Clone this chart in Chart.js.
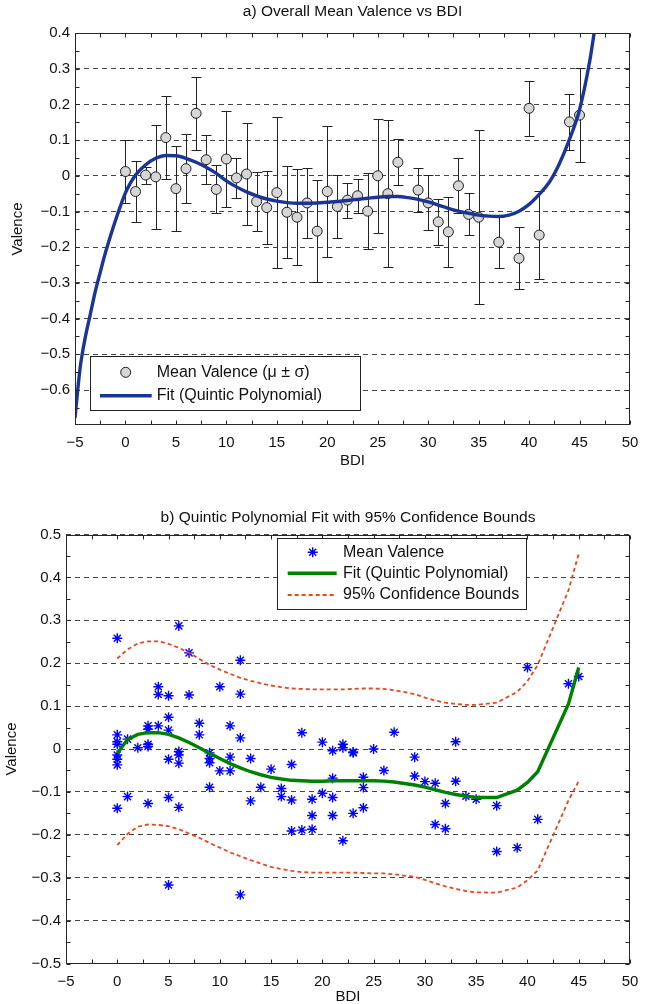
<!DOCTYPE html>
<html>
<head>
<meta charset="utf-8">
<script src="https://cdn.jsdelivr.net/npm/chart.js@4.4.1/dist/chart.umd.min.js"></script>
<style>
  body { margin: 0; background: #fff; }
  #wrap { position: relative; width: 652px; height: 1004px; }
  canvas { position: absolute; left: 0; }
  #topChart { top: 0; }
  #bottomChart { top: 490px; }
</style>
</head>
<body>
<div id="wrap">
  <canvas id="topChart" width="652" height="490"></canvas>
  <canvas id="bottomChart" width="652" height="514"></canvas>
</div>
<script>
// ---- data: panel a (per-BDI means with std) ----
const topBDI = [0, 1, 2, 3, 4, 5, 6, 7, 8, 9, 10, 11, 12, 13, 14, 15, 16, 17, 18, 19, 20,
  21, 22, 23, 24, 25, 26, 27, 29, 30, 31, 32, 33, 34, 35, 37, 39, 40, 41, 44, 45];
const meanValence = [0.012, -0.044, 0.002, -0.003, 0.107, -0.036, 0.020, 0.175, 0.045, -0.038, 0.047,
  -0.006, 0.005, -0.072, -0.089, -0.047, -0.102, -0.116, -0.076, -0.155, -0.044,
  -0.086, -0.068, -0.056, -0.099, 0.000, -0.050, 0.038, -0.040, -0.076, -0.129, -0.157, -0.028,
  -0.108, -0.116, -0.186, -0.231, 0.189, -0.166, 0.151, 0.170];
const sdValence = [0.088, 0.085, 0.024, 0.145, 0.117, 0.120, 0.097, 0.103, 0.068, 0.067, 0.135,
  0.057, 0.143, 0.082, 0.102, 0.211, 0.129, 0.134, 0.098, 0.143, 0.184,
  0.088, 0.049, 0.047, 0.107, 0.160, 0.205, 0.064, 0.061, 0.077, 0.064, 0.098, 0.077,
  0.059, 0.244, 0.071, 0.087, 0.077, 0.123, 0.079, 0.132];

// quintic fit
const fitCurveX = [-5, -4.5, -4, -3.5, -3, -2.5, -2, -1.5, -1, -0.5, 0, 0.5, 1, 2, 3, 4, 5, 6, 7, 8, 9, 10,
  11, 12, 13, 14, 15, 16, 17, 18, 19, 20, 21, 22, 23, 24, 25, 26, 27, 28, 29, 30,
  31, 32, 33, 34, 35, 36, 37, 38, 39, 40, 41, 42, 43, 44, 45, 46, 46.5];
const fitCurveY = [-0.678, -0.54, -0.455, -0.39, -0.325, -0.27, -0.217, -0.17, -0.126, -0.085, -0.048, -0.02,
  0.002, 0.031, 0.049, 0.057, 0.056, 0.049, 0.038, 0.024, 0.007, -0.014,
  -0.031, -0.045, -0.056, -0.065, -0.071, -0.075, -0.077, -0.077, -0.076, -0.074,
  -0.072, -0.069, -0.066, -0.063, -0.060, -0.058, -0.058, -0.061, -0.066, -0.073,
  -0.082, -0.091, -0.099, -0.105, -0.110, -0.113, -0.114, -0.110, -0.099, -0.080,
  -0.052, -0.018, 0.034, 0.102, 0.185, 0.32, 0.41];

// ---- data: panel b (individual subjects) ----
const subjBDI = [0, 0, 0, 0, 0, 0, 0, 0, 1, 1, 2, 3, 3, 3, 3, 3, 4, 4, 4,
  5, 5, 5, 5, 5, 5, 6, 6, 6, 6, 6, 7, 7, 8, 8, 9, 9, 9, 9, 10, 10, 11, 11, 11,
  12, 12, 12, 12, 13, 13, 14, 15, 16, 16, 17, 17, 17, 18, 18, 19, 19, 19, 20, 20,
  21, 21, 21, 21, 22, 22, 22, 23, 23, 23, 24, 24, 24, 25, 26, 27, 29, 29, 30,
  31, 31, 32, 32, 33, 33, 34, 35, 37, 37, 39, 40, 41, 44, 45];
const subjValence = [0.258, 0.033, 0.017, 0.011, -0.014, -0.024, -0.037, -0.138,
  0.023, -0.111, 0.003, 0.054, 0.046, 0.011, 0.006, -0.127, 0.145, 0.127, 0.054,
  0.124, 0.074, 0.044, -0.024, -0.113, -0.317, 0.287, -0.006, -0.014, -0.033, -0.136,
  0.224, 0.126, 0.060, 0.033, -0.009, -0.022, -0.032, -0.089, 0.145, -0.051,
  0.054, -0.019, -0.051, 0.207, 0.128, 0.026, -0.340, -0.022, -0.121, -0.089, -0.047,
  -0.092, -0.111, -0.036, -0.119, -0.191, 0.038, -0.189, -0.117, -0.155, -0.187,
  -0.103, 0.016, -0.004, -0.068, -0.113, -0.155, 0.011, 0.003, -0.214,
  -0.009, -0.007, -0.150, -0.066, -0.090, -0.137, 0.000, -0.050, 0.039,
  -0.019, -0.063, -0.076, -0.080, -0.176, -0.127, -0.186, 0.017, -0.075,
  -0.110, -0.117, -0.132, -0.239, -0.230, 0.190, -0.164, 0.152, 0.169];

const fitBDI = [0, 1, 2, 3, 4, 5, 6, 7, 8, 9, 10, 11, 12, 13, 14, 15, 16, 17, 18, 19, 20,
  21, 22, 23, 24, 25, 26, 27, 29, 30, 31, 32, 33, 34, 35, 37, 39, 40, 41, 44, 45];
const fitValence = [-0.010, 0.022, 0.034, 0.038, 0.038, 0.034, 0.026, 0.015, 0.003, -0.010, -0.022,
  -0.034, -0.044, -0.053, -0.060, -0.066, -0.070, -0.073, -0.074, -0.075, -0.075,
  -0.074, -0.074, -0.074, -0.074, -0.074, -0.075, -0.077, -0.084, -0.089, -0.095, -0.101, -0.106,
  -0.110, -0.113, -0.113, -0.096, -0.078, -0.053, 0.105, 0.190];
const upperBound = [0.211, 0.232, 0.246, 0.251, 0.251, 0.245, 0.236, 0.224, 0.210, 0.196, 0.185,
  0.175, 0.166, 0.159, 0.153, 0.148, 0.144, 0.141, 0.140, 0.139, 0.139,
  0.139, 0.139, 0.140, 0.141, 0.141, 0.140, 0.137, 0.128, 0.120, 0.113, 0.108, 0.105,
  0.103, 0.103, 0.108, 0.133, 0.158, 0.196, 0.370, 0.455];
const lowerBound = [-0.224, -0.198, -0.181, -0.176, -0.177, -0.180, -0.187, -0.197, -0.207, -0.219, -0.230,
  -0.241, -0.250, -0.259, -0.267, -0.275, -0.280, -0.284, -0.287, -0.288, -0.288,
  -0.288, -0.288, -0.288, -0.289, -0.290, -0.290, -0.292, -0.298, -0.305, -0.313, -0.320, -0.326,
  -0.331, -0.334, -0.335, -0.323, -0.306, -0.283, -0.120, -0.075];

// tick labels
const xTicks = [-5, 0, 5, 10, 15, 20, 25, 30, 35, 40, 45, 50];
const yTicksTop = [-0.6, -0.5, -0.4, -0.3, -0.2, -0.1, 0, 0.1, 0.2, 0.3, 0.4];
const yTicksBottom = [-0.5, -0.4, -0.3, -0.2, -0.1, 0, 0.1, 0.2, 0.3, 0.4, 0.5];

const FONT = "'Liberation Sans', Arial, Helvetica, sans-serif";
const INK = '#111';
const BLUE = '#1b3595';
const GREEN = '#008000';
const RED = '#e8461e';
Chart.defaults.font.family = FONT;
Chart.defaults.color = INK;

const pairs = (xs, ys) => xs.map((v, i) => ({ x: v, y: ys[i] }));
const fmt = v => {
  const s = Math.abs(v) < 1e-9 ? '0' : String(+v.toFixed(1));
  return s.replace('-', '\u2212');
};

// vertical error bars with caps, drawn under the markers
const errorBars = {
  id: 'errorBars',
  beforeDatasetsDraw(chart, args, opts) {
    if (!opts.x) return;
    const { ctx, scales: { x, y } } = chart;
    ctx.save();
    ctx.strokeStyle = opts.color;
    ctx.lineWidth = 1;
    ctx.beginPath();
    opts.x.forEach((bdi, i) => {
      const px = Math.round(x.getPixelForValue(bdi)) + 0.5;
      const hi = Math.round(y.getPixelForValue(opts.mean[i] + opts.sd[i])) + 0.5;
      const lo = Math.round(y.getPixelForValue(opts.mean[i] - opts.sd[i])) + 0.5;
      ctx.moveTo(px, hi); ctx.lineTo(px, lo);
      ctx.moveTo(px - opts.cap, hi); ctx.lineTo(px + opts.cap, hi);
      ctx.moveTo(px - opts.cap, lo); ctx.lineTo(px + opts.cap, lo);
    });
    ctx.stroke();
    ctx.restore();
  }
};

// box around the plot with inward ticks on all four sides, title centred over the axes
const frame = {
  id: 'frame',
  afterDatasetsDraw(chart, args, opts) {
    const { ctx, chartArea: a, scales: { x, y } } = chart;
    const L = Math.round(a.left) + 0.5, R = Math.round(a.right) - 0.5;
    const T = Math.round(a.top) + 0.5, B = Math.round(a.bottom) - 0.5;
    ctx.save();
    ctx.strokeStyle = opts.color;
    ctx.lineWidth = 1;
    ctx.strokeRect(L, T, R - L, B - T);
    ctx.beginPath();
    for (let v = x.min; v <= x.max + 1e-9; v += opts.xStep) {
      const px = Math.round(x.getPixelForValue(v)) + 0.5;
      ctx.moveTo(px, B); ctx.lineTo(px, B - opts.len);
      ctx.moveTo(px, T); ctx.lineTo(px, T + opts.len);
    }
    const y0 = Math.ceil(y.min / opts.yStep - 1e-6) * opts.yStep;
    for (let v = y0; v <= y.max + 1e-9; v += opts.yStep) {
      const py = Math.round(y.getPixelForValue(v)) + 0.5;
      ctx.moveTo(L, py); ctx.lineTo(L + opts.len, py);
      ctx.moveTo(R, py); ctx.lineTo(R - opts.len, py);
    }
    ctx.stroke();
    ctx.fillStyle = INK;
    ctx.font = opts.titleSize + 'px ' + FONT;
    ctx.textAlign = 'center';
    ctx.textBaseline = 'middle';
    ctx.fillText(opts.title, (a.left + a.right) / 2, opts.titleY);
    ctx.restore();
  }
};

function drawStar(ctx, cx, cy, r) {
  const d = r * Math.SQRT1_2;
  ctx.beginPath();
  ctx.moveTo(cx - r, cy); ctx.lineTo(cx + r, cy);
  ctx.moveTo(cx, cy - r); ctx.lineTo(cx, cy + r);
  ctx.moveTo(cx - d, cy - d); ctx.lineTo(cx + d, cy + d);
  ctx.moveTo(cx - d, cy + d); ctx.lineTo(cx + d, cy - d);
  ctx.stroke();
}

// legend box placed inside the plot
const boxLegend = {
  id: 'boxLegend',
  afterDraw(chart, args, opts) {
    const { ctx } = chart;
    const [bx, by, bw, bh] = opts.box;
    ctx.save();
    ctx.fillStyle = '#fff';
    ctx.fillRect(bx, by, bw, bh);
    ctx.strokeStyle = '#222';
    ctx.lineWidth = 1;
    ctx.strokeRect(Math.round(bx) + 0.5, Math.round(by) + 0.5, Math.round(bw), Math.round(bh));
    opts.items.forEach(it => {
      ctx.save();
      if (it.kind === 'circle') {
        ctx.beginPath();
        ctx.arc(opts.markX, it.y, it.r, 0, Math.PI * 2);
        ctx.fillStyle = it.fill; ctx.fill();
        ctx.strokeStyle = it.color; ctx.lineWidth = 1; ctx.stroke();
      } else if (it.kind === 'star') {
        ctx.strokeStyle = it.color; ctx.lineWidth = it.width;
        drawStar(ctx, opts.markX, it.y, it.r);
      } else {
        ctx.strokeStyle = it.color; ctx.lineWidth = it.width;
        ctx.setLineDash(it.dash || []);
        ctx.beginPath();
        ctx.moveTo(opts.lineX[0], it.y); ctx.lineTo(opts.lineX[1], it.y);
        ctx.stroke();
      }
      ctx.restore();
      ctx.fillStyle = INK;
      ctx.font = opts.fontSize + 'px ' + FONT;
      ctx.textBaseline = 'middle';
      ctx.textAlign = 'left';
      ctx.fillText(it.label, opts.textX, it.y);
    });
    ctx.restore();
  }
};

function axes(yTicks, yMin, yMax, yWidth, xHeight, opt) {
  return {
    x: {
      type: 'linear', min: -5, max: 50,
      grid: { display: false }, border: { display: false },
      afterBuildTicks: s => { s.ticks = xTicks.map(v => ({ value: v })); },
      afterFit: s => { s.height = xHeight; },
      ticks: { padding: opt.xPad, font: { size: 15 }, color: INK, autoSkip: false, maxRotation: 0, callback: fmt },
      title: { display: true, text: 'BDI', font: { size: 15, lineHeight: 1 }, color: INK, padding: { top: 0, bottom: opt.xTitlePad } }
    },
    y: {
      type: 'linear', min: yMin, max: yMax,
      grid: { color: '#444', lineWidth: 1, drawTicks: false },
      border: { display: false, dash: [5, 4] },
      afterBuildTicks: s => { s.ticks = yTicks.map(v => ({ value: v })); },
      afterFit: s => { s.width = yWidth; },
      ticks: { padding: opt.yPad, font: { size: 15 }, color: INK, callback: fmt },
      title: { display: true, text: 'Valence', font: { size: 15 }, color: INK, padding: { top: opt.yTitlePad, bottom: 0 } }
    }
  };
}

// ---- panel a ----
new Chart(document.getElementById('topChart'), {
  type: 'scatter',
  data: {
    datasets: [
      {
        type: 'line', label: 'Fit (Quintic Polynomial)', data: pairs(fitCurveX, fitCurveY),
        borderColor: BLUE, borderWidth: 3.4, pointRadius: 0,
        cubicInterpolationMode: 'monotone', fill: false, order: 0
      },
      {
        label: 'Mean Valence (\u03bc \u00b1 \u03c3)', data: pairs(topBDI, meanValence),
        pointStyle: 'circle', pointRadius: 5, backgroundColor: '#d6d6d6',
        borderColor: '#1a1a1a', borderWidth: 1, order: 1
      }
    ]
  },
  options: {
    responsive: false, animation: false, events: [],
    layout: { padding: { left: 0, right: 22, top: 33, bottom: 0 } },
    scales: axes(yTicksTop, -0.698, 0.4, 75, 65, { xPad: 1, yPad: 5, xTitlePad: 22, yTitlePad: 9 }),
    plugins: {
      legend: { display: false },
      tooltip: { enabled: false },
      title: { display: false },
      errorBars: { x: topBDI, mean: meanValence, sd: sdValence, cap: 5, color: '#222' },
      frame: {
        color: '#262626', len: 4, xStep: 2.5, yStep: 0.05,
        title: 'a) Overall Mean Valence vs BDI', titleSize: 15.5, titleY: 12
      },
      boxLegend: {
        box: [90, 356, 270, 54], markX: 125.7, lineX: [100, 151.7], textX: 156.7, fontSize: 16,
        items: [
          { kind: 'circle', label: 'Mean Valence (\u03bc \u00b1 \u03c3)', y: 372.3, r: 5, fill: '#d6d6d6', color: '#1a1a1a' },
          { kind: 'line', label: 'Fit (Quintic Polynomial)', y: 395.7, color: BLUE, width: 3.4 }
        ]
      }
    }
  },
  plugins: [errorBars, frame, boxLegend]
});

// ---- panel b ----
new Chart(document.getElementById('bottomChart'), {
  type: 'scatter',
  data: {
    datasets: [
      {
        label: 'Mean Valence', data: pairs(subjBDI, subjValence),
        pointStyle: 'star', pointRadius: 5, borderColor: '#0000ff', backgroundColor: '#0000ff',
        borderWidth: 1.4, order: 2
      },
      {
        type: 'line', label: 'Fit (Quintic Polynomial)', data: pairs(fitBDI, fitValence),
        borderColor: GREEN, borderWidth: 3.4, pointRadius: 0, tension: 0, fill: false, order: 1
      },
      {
        type: 'line', label: '95% Confidence Bounds', data: pairs(fitBDI, upperBound),
        borderColor: RED, borderWidth: 1.8, borderDash: [4, 3], pointRadius: 0, tension: 0, fill: false, order: 0
      },
      {
        type: 'line', label: '95% Confidence Bounds (lower)', data: pairs(fitBDI, lowerBound),
        borderColor: RED, borderWidth: 1.8, borderDash: [4, 3], pointRadius: 0, tension: 0, fill: false, order: 0
      }
    ]
  },
  options: {
    responsive: false, animation: false, events: [],
    layout: { padding: { left: 0, right: 22, top: 44.5, bottom: 0 } },
    scales: axes(yTicksBottom, -0.5, 0.5, 66, 40.5, { xPad: 1, yPad: 5, xTitlePad: 0, yTitlePad: 3 }),
    plugins: {
      legend: { display: false },
      tooltip: { enabled: false },
      title: { display: false },
      frame: {
        color: '#262626', len: 4, xStep: 2.5, yStep: 0.05,
        title: 'b) Quintic Polynomial Fit with 95% Confidence Bounds', titleSize: 15.5, titleY: 28
      },
      boxLegend: {
        box: [277.3, 48.3, 249.4, 71], markX: 312.7, lineX: [287.7, 336.7], textX: 343, fontSize: 16,
        items: [
          { kind: 'star', label: 'Mean Valence', y: 62.3, r: 5, color: '#0000ff', width: 1.4 },
          { kind: 'line', label: 'Fit (Quintic Polynomial)', y: 83.3, color: GREEN, width: 3.4 },
          { kind: 'line', label: '95% Confidence Bounds', y: 105, color: RED, width: 1.8, dash: [4, 3] }
        ]
      }
    }
  },
  plugins: [frame, boxLegend]
});
</script>
</body>
</html>
